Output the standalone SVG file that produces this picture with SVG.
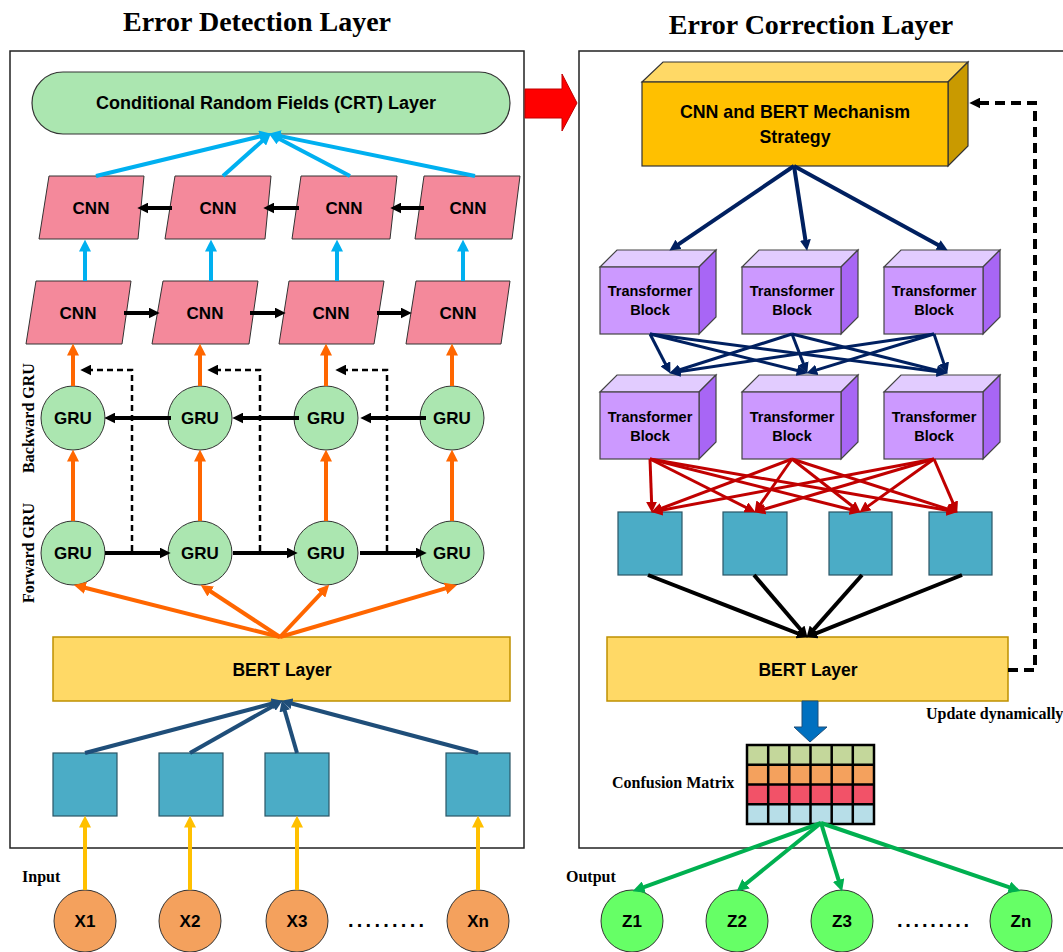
<svg xmlns="http://www.w3.org/2000/svg" width="1063" height="952" viewBox="0 0 1063 952">
<style>
.t{font-family:"Liberation Sans",Arial,sans-serif;font-weight:bold;fill:#000;text-anchor:middle}
.s{font-family:"Liberation Serif","Times New Roman",serif;font-weight:bold;fill:#000}
.panel{fill:#fff;stroke:#222;stroke-width:1.5}
.cnn{fill:#F4899B;stroke:#333;stroke-width:1}
.gru{fill:#ABE6B0;stroke:#333;stroke-width:1}
.bert{fill:#FFD966;stroke:#BF9000;stroke-width:1.5}
.sq{fill:#4BACC6;stroke:#2A5566;stroke-width:1.2}
.xin{fill:#F4A15D;stroke:#333;stroke-width:1}
.zout{fill:#66FF66;stroke:#333;stroke-width:1}
.tf{fill:#CC99FF;stroke:#444;stroke-width:1.2}
.tt{fill:#E2CCFF;stroke:#444;stroke-width:1.2}
.ts{fill:#A866F5;stroke:#444;stroke-width:1.2}
.c line,.c path{fill:none}
.blue{stroke:#00B0F0;stroke-width:4}
.blk{stroke:#000;stroke-width:4}
.org{stroke:#FF6600;stroke-width:4}
.dsh{stroke:#000;stroke-width:2.5;stroke-dasharray:6,4}
.nv1{stroke:#1F4E79;stroke-width:4}
.yel{stroke:#FFC000;stroke-width:4}
.nv2{stroke:#002060;stroke-width:4}
.nv3{stroke:#002060;stroke-width:3}
.red{stroke:#C00000;stroke-width:3}
.grn{stroke:#00B050;stroke-width:4}
.fb{stroke:#000;stroke-width:4;stroke-dasharray:10,6}
</style>
<defs>
<marker id="mBlue" viewBox="0 0 10 10" refX="3" refY="5" markerWidth="12" markerHeight="12" markerUnits="userSpaceOnUse" orient="auto"><path d="M0,0 L10,5 L0,10 z" fill="#00B0F0"/></marker>
<marker id="mBlk" viewBox="0 0 10 10" refX="3" refY="5" markerWidth="11" markerHeight="11" markerUnits="userSpaceOnUse" orient="auto"><path d="M0,0 L10,5 L0,10 z" fill="#000"/></marker>
<marker id="mOrg" viewBox="0 0 10 10" refX="3" refY="5" markerWidth="12" markerHeight="12" markerUnits="userSpaceOnUse" orient="auto"><path d="M0,0 L10,5 L0,10 z" fill="#FF6600"/></marker>
<marker id="mNv1" viewBox="0 0 10 10" refX="3" refY="5" markerWidth="11" markerHeight="11" markerUnits="userSpaceOnUse" orient="auto"><path d="M0,0 L10,5 L0,10 z" fill="#1F4E79"/></marker>
<marker id="mYel" viewBox="0 0 10 10" refX="3" refY="5" markerWidth="12" markerHeight="12" markerUnits="userSpaceOnUse" orient="auto"><path d="M0,0 L10,5 L0,10 z" fill="#FFC000"/></marker>
<marker id="mNv2" viewBox="0 0 10 10" refX="3" refY="5" markerWidth="11" markerHeight="11" markerUnits="userSpaceOnUse" orient="auto"><path d="M0,0 L10,5 L0,10 z" fill="#002060"/></marker>
<marker id="mRed" viewBox="0 0 10 10" refX="3" refY="5" markerWidth="11" markerHeight="11" markerUnits="userSpaceOnUse" orient="auto"><path d="M0,0 L10,5 L0,10 z" fill="#C00000"/></marker>
<marker id="mGrn" viewBox="0 0 10 10" refX="3" refY="5" markerWidth="12" markerHeight="12" markerUnits="userSpaceOnUse" orient="auto"><path d="M0,0 L10,5 L0,10 z" fill="#00B050"/></marker>
</defs>

<rect width="1063" height="952" fill="#fff"/>

<!-- titles -->
<text class="s" x="257" y="31" font-size="28" text-anchor="middle">Error Detection Layer</text>
<text class="s" x="811" y="34" font-size="28" text-anchor="middle">Error Correction Layer</text>

<!-- panels -->
<rect class="panel" x="10" y="51" width="514" height="797"/>
<rect class="panel" x="579" y="51" width="500" height="797"/>

<!-- big red arrow -->
<polygon points="525,89 562,89 562,74 577,103 562,131 562,118 525,118" fill="#FF0000" stroke="#C00000" stroke-width="1"/>

<!-- LEFT: nodes -->
<g id="crt">
<rect x="32" y="72" width="478" height="62" rx="31" fill="#ABE6B0" stroke="#333" stroke-width="1.2"/>
<text class="t" x="266" y="109" font-size="18">Conditional Random Fields (CRT) Layer</text>
</g>
<g id="cnn-top-1"><polygon class="cnn" points="49,176 144,176 138,239 39,239"/><text class="t" x="91" y="214" font-size="17">CNN</text></g>
<g id="cnn-top-2"><polygon class="cnn" points="175,176 271,176 265,239 165,239"/><text class="t" x="218" y="214" font-size="17">CNN</text></g>
<g id="cnn-top-3"><polygon class="cnn" points="301,176 397,176 390,239 292,239"/><text class="t" x="344" y="214" font-size="17">CNN</text></g>
<g id="cnn-top-4"><polygon class="cnn" points="424,176 520,176 512,239 415,239"/><text class="t" x="468" y="214" font-size="17">CNN</text></g>
<g id="cnn-bot-1"><polygon class="cnn" points="36,281 131,281 122,344 26,344"/><text class="t" x="78" y="319" font-size="17">CNN</text></g>
<g id="cnn-bot-2"><polygon class="cnn" points="163,281 258,281 249,344 152,344"/><text class="t" x="205" y="319" font-size="17">CNN</text></g>
<g id="cnn-bot-3"><polygon class="cnn" points="289,281 384,281 374,344 279,344"/><text class="t" x="331" y="319" font-size="17">CNN</text></g>
<g id="cnn-bot-4"><polygon class="cnn" points="416,281 510,281 501,344 406,344"/><text class="t" x="458" y="319" font-size="17">CNN</text></g>

<g id="gru-b-1"><circle class="gru" cx="73" cy="418" r="32"/><text class="t" x="73" y="424" font-size="17">GRU</text></g>
<g id="gru-b-2"><circle class="gru" cx="200" cy="418" r="32"/><text class="t" x="200" y="424" font-size="17">GRU</text></g>
<g id="gru-b-3"><circle class="gru" cx="326" cy="418" r="32"/><text class="t" x="326" y="424" font-size="17">GRU</text></g>
<g id="gru-b-4"><circle class="gru" cx="452" cy="418" r="32"/><text class="t" x="452" y="424" font-size="17">GRU</text></g>
<g id="gru-f-1"><circle class="gru" cx="73" cy="553" r="32"/><text class="t" x="73" y="559" font-size="17">GRU</text></g>
<g id="gru-f-2"><circle class="gru" cx="200" cy="553" r="32"/><text class="t" x="200" y="559" font-size="17">GRU</text></g>
<g id="gru-f-3"><circle class="gru" cx="326" cy="553" r="32"/><text class="t" x="326" y="559" font-size="17">GRU</text></g>
<g id="gru-f-4"><circle class="gru" cx="452" cy="553" r="32"/><text class="t" x="452" y="559" font-size="17">GRU</text></g>

<text class="s" font-size="16" text-anchor="middle" transform="translate(34,418) rotate(-90)">Backward GRU</text>
<text class="s" font-size="16" text-anchor="middle" transform="translate(34,553) rotate(-90)">Forward GRU</text>

<g id="bert-left"><rect class="bert" x="53" y="637" width="457" height="64"/><text class="t" x="282" y="676" font-size="17.5">BERT Layer</text></g>

<g id="emb-1"><rect class="sq" x="53" y="753" width="64" height="63"/></g>
<g id="emb-2"><rect class="sq" x="159" y="753" width="64" height="63"/></g>
<g id="emb-3"><rect class="sq" x="265" y="753" width="64" height="63"/></g>
<g id="emb-4"><rect class="sq" x="446" y="753" width="64" height="63"/></g>

<text class="s" x="22" y="882" font-size="16">Input</text>
<g id="x1"><circle class="xin" cx="85" cy="921" r="31"/><text class="t" x="85" y="927" font-size="17">X1</text></g>
<g id="x2"><circle class="xin" cx="190" cy="921" r="31"/><text class="t" x="190" y="927" font-size="17">X2</text></g>
<g id="x3"><circle class="xin" cx="297" cy="921" r="31"/><text class="t" x="297" y="927" font-size="17">X3</text></g>
<text class="t" x="386" y="927" font-size="20" textLength="76" lengthAdjust="spacing">.........</text>
<g id="xn"><circle class="xin" cx="478" cy="921" r="31"/><text class="t" x="478" y="927" font-size="17">Xn</text></g>

<!-- RIGHT: nodes -->
<g id="strategy">
<polygon points="642,82 663,62 968,62 948,82" fill="#FFD966" stroke="#333" stroke-width="1.2"/>
<polygon points="948,82 968,62 968,146 948,166" fill="#C99A00" stroke="#333" stroke-width="1.2"/>
<rect x="642" y="82" width="306" height="84" fill="#FFC000" stroke="#333" stroke-width="1.2"/>
<text class="t" x="795" y="118" font-size="17.8">CNN and BERT Mechanism</text>
<text class="t" x="795" y="143" font-size="17.8">Strategy</text>
</g>

<g id="tb-1-1"><polygon class="tt" points="600,267 617,250 716,250 699,267"/><polygon class="ts" points="699,267 716,250 716,317 699,334"/><rect class="tf" x="600" y="267" width="99" height="67"/><text class="t" x="650" y="296" font-size="14.5">Transformer</text><text class="t" x="650" y="315" font-size="14.5">Block</text></g>
<g id="tb-1-2"><polygon class="tt" points="742,267 759,250 858,250 841,267"/><polygon class="ts" points="841,267 858,250 858,317 841,334"/><rect class="tf" x="742" y="267" width="99" height="67"/><text class="t" x="792" y="296" font-size="14.5">Transformer</text><text class="t" x="792" y="315" font-size="14.5">Block</text></g>
<g id="tb-1-3"><polygon class="tt" points="884,267 901,250 1000,250 983,267"/><polygon class="ts" points="983,267 1000,250 1000,317 983,334"/><rect class="tf" x="884" y="267" width="99" height="67"/><text class="t" x="934" y="296" font-size="14.5">Transformer</text><text class="t" x="934" y="315" font-size="14.5">Block</text></g>
<g id="tb-2-1"><polygon class="tt" points="600,392 617,375 716,375 699,392"/><polygon class="ts" points="699,392 716,375 716,442 699,459"/><rect class="tf" x="600" y="392" width="99" height="67"/><text class="t" x="650" y="422" font-size="14.5">Transformer</text><text class="t" x="650" y="441" font-size="14.5">Block</text></g>
<g id="tb-2-2"><polygon class="tt" points="742,392 759,375 858,375 841,392"/><polygon class="ts" points="841,392 858,375 858,442 841,459"/><rect class="tf" x="742" y="392" width="99" height="67"/><text class="t" x="792" y="422" font-size="14.5">Transformer</text><text class="t" x="792" y="441" font-size="14.5">Block</text></g>
<g id="tb-2-3"><polygon class="tt" points="884,392 901,375 1000,375 983,392"/><polygon class="ts" points="983,392 1000,375 1000,442 983,459"/><rect class="tf" x="884" y="392" width="99" height="67"/><text class="t" x="934" y="422" font-size="14.5">Transformer</text><text class="t" x="934" y="441" font-size="14.5">Block</text></g>

<g id="out-1"><rect class="sq" x="618" y="512" width="64" height="63"/></g>
<g id="out-2"><rect class="sq" x="723" y="512" width="64" height="63"/></g>
<g id="out-3"><rect class="sq" x="829" y="512" width="63" height="63"/></g>
<g id="out-4"><rect class="sq" x="929" y="512" width="63" height="63"/></g>

<g id="bert-right"><rect class="bert" x="607" y="637" width="401" height="64"/><text class="t" x="808" y="676" font-size="17.5">BERT Layer</text></g>

<polygon points="802,701 818,701 818,727 827,727 810,742 794,727 802,727" fill="#0070C0" stroke="#1F4E79" stroke-width="1"/>

<text class="s" x="926" y="719" font-size="16">Update dynamically</text>

<g id="confusion-matrix">
<rect x="747" y="745" width="127" height="19.75" fill="#C4D79B"/>
<rect x="747" y="764.75" width="127" height="19.75" fill="#F4A15D"/>
<rect x="747" y="784.5" width="127" height="19.75" fill="#F25268"/>
<rect x="747" y="804.25" width="127" height="19.75" fill="#B7DEE8"/>
<g stroke="#000" stroke-width="2.5" fill="none">
<rect x="747" y="745" width="127" height="79"/>
<path d="M768.2,745V824M789.3,745V824M810.5,745V824M831.7,745V824M852.8,745V824M747,764.75H874M747,784.5H874M747,804.25H874"/>
</g>
</g>
<text class="s" x="612" y="788" font-size="16">Confusion Matrix</text>

<text class="s" x="566" y="882" font-size="16">Output</text>
<g id="z1"><circle class="zout" cx="632" cy="921" r="31"/><text class="t" x="632" y="927" font-size="17">Z1</text></g>
<g id="z2"><circle class="zout" cx="737" cy="921" r="31"/><text class="t" x="737" y="927" font-size="17">Z2</text></g>
<g id="z3"><circle class="zout" cx="842" cy="921" r="31"/><text class="t" x="842" y="927" font-size="17">Z3</text></g>
<text class="t" x="933" y="927" font-size="20" textLength="72" lengthAdjust="spacing">.........</text>
<g id="zn"><circle class="zout" cx="1021" cy="921" r="31"/><text class="t" x="1021" y="927" font-size="17">Zn</text></g>

<!-- connectors -->
<g id="connectors" class="c">
<line class="blue" x1="96" y1="176" x2="263.2" y2="135.6" marker-end="url(#mBlue)"/>
<line class="blue" x1="223" y1="176" x2="264.8" y2="138.7" marker-end="url(#mBlue)"/>
<line class="blue" x1="350" y1="176" x2="276.2" y2="137.3" marker-end="url(#mBlue)"/>
<line class="blue" x1="475" y1="176" x2="276.9" y2="135.4" marker-end="url(#mBlue)"/>

<line class="blue" x1="85" y1="281" x2="85" y2="248" marker-end="url(#mBlue)"/>
<line class="blue" x1="211" y1="281" x2="211" y2="248" marker-end="url(#mBlue)"/>
<line class="blue" x1="337" y1="281" x2="337" y2="248" marker-end="url(#mBlue)"/>
<line class="blue" x1="463" y1="281" x2="463" y2="248" marker-end="url(#mBlue)"/>

<line class="blk" x1="172" y1="208" x2="145" y2="208" marker-end="url(#mBlk)"/>
<line class="blk" x1="299" y1="208" x2="271" y2="208" marker-end="url(#mBlk)"/>
<line class="blk" x1="424" y1="208" x2="398" y2="208" marker-end="url(#mBlk)"/>
<line class="blk" x1="124" y1="313" x2="152" y2="313" marker-end="url(#mBlk)"/>
<line class="blk" x1="250" y1="313" x2="278" y2="313" marker-end="url(#mBlk)"/>
<line class="blk" x1="377" y1="313" x2="404" y2="313" marker-end="url(#mBlk)"/>

<line class="org" x1="73" y1="386" x2="73" y2="352" marker-end="url(#mOrg)"/>
<line class="org" x1="200" y1="386" x2="200" y2="352" marker-end="url(#mOrg)"/>
<line class="org" x1="326" y1="386" x2="326" y2="352" marker-end="url(#mOrg)"/>
<line class="org" x1="452" y1="386" x2="452" y2="352" marker-end="url(#mOrg)"/>
<line class="org" x1="73" y1="521" x2="73" y2="458" marker-end="url(#mOrg)"/>
<line class="org" x1="200" y1="521" x2="200" y2="458" marker-end="url(#mOrg)"/>
<line class="org" x1="326" y1="521" x2="326" y2="458" marker-end="url(#mOrg)"/>
<line class="org" x1="452" y1="521" x2="452" y2="458" marker-end="url(#mOrg)"/>

<line class="org" x1="280" y1="637" x2="82" y2="587" marker-end="url(#mOrg)"/>
<line class="org" x1="280" y1="637" x2="207.7" y2="589.5" marker-end="url(#mOrg)"/>
<line class="org" x1="280" y1="637" x2="323.4" y2="590.9" marker-end="url(#mOrg)"/>
<line class="org" x1="280" y1="637" x2="449" y2="587.4" marker-end="url(#mOrg)"/>

<line class="blk" x1="105" y1="553" x2="163" y2="553" marker-end="url(#mBlk)"/>
<line class="blk" x1="233" y1="553" x2="290" y2="553" marker-end="url(#mBlk)"/>
<line class="blk" x1="360" y1="553" x2="419" y2="553" marker-end="url(#mBlk)"/>
<line class="blk" x1="171" y1="418" x2="112" y2="418" marker-end="url(#mBlk)"/>
<line class="blk" x1="299" y1="418" x2="240" y2="418" marker-end="url(#mBlk)"/>
<line class="blk" x1="426" y1="418" x2="368" y2="418" marker-end="url(#mBlk)"/>

<path class="dsh" d="M132,551 V370 H88" marker-end="url(#mBlk)"/>
<path class="dsh" d="M260,551 V370 H215" marker-end="url(#mBlk)"/>
<path class="dsh" d="M387,551 V370 H343" marker-end="url(#mBlk)"/>

<line class="nv1" x1="85" y1="753" x2="275.2" y2="702.8" marker-end="url(#mNv1)"/>
<line class="nv1" x1="190" y1="753" x2="275.9" y2="704.4" marker-end="url(#mNv1)"/>
<line class="nv1" x1="297" y1="753" x2="283.9" y2="707.7" marker-end="url(#mNv1)"/>
<line class="nv1" x1="478" y1="753" x2="288.8" y2="702.8" marker-end="url(#mNv1)"/>

<line class="yel" x1="85" y1="890" x2="85" y2="824" marker-end="url(#mYel)"/>
<line class="yel" x1="190" y1="890" x2="190" y2="824" marker-end="url(#mYel)"/>
<line class="yel" x1="297" y1="890" x2="297" y2="824" marker-end="url(#mYel)"/>
<line class="yel" x1="478" y1="890" x2="478" y2="824" marker-end="url(#mYel)"/>

<line class="nv2" x1="794" y1="166" x2="675.8" y2="246.1" marker-end="url(#mNv2)"/>
<line class="nv2" x1="794" y1="166" x2="805.9" y2="243.1" marker-end="url(#mNv2)"/>
<line class="nv2" x1="794" y1="166" x2="940.9" y2="246.6" marker-end="url(#mNv2)"/>

<line class="nv3" x1="650" y1="334" x2="666.9" y2="366.7" marker-end="url(#mNv2)"/>
<line class="nv3" x1="650" y1="334" x2="800.2" y2="371.3" marker-end="url(#mNv2)"/>
<line class="nv3" x1="650" y1="334" x2="940.1" y2="372.1" marker-end="url(#mNv2)"/>
<line class="nv3" x1="792" y1="334" x2="676.7" y2="370.8" marker-end="url(#mNv2)"/>
<line class="nv3" x1="792" y1="334" x2="804.5" y2="366.4" marker-end="url(#mNv2)"/>
<line class="nv3" x1="792" y1="334" x2="940.2" y2="371.3" marker-end="url(#mNv2)"/>
<line class="nv3" x1="934" y1="334" x2="676.9" y2="371.9" marker-end="url(#mNv2)"/>
<line class="nv3" x1="934" y1="334" x2="813.7" y2="370.9" marker-end="url(#mNv2)"/>
<line class="nv3" x1="934" y1="334" x2="944.8" y2="366.4" marker-end="url(#mNv2)"/>

<line class="red" x1="650" y1="459" x2="651.7" y2="505" marker-end="url(#mRed)"/>
<line class="red" x1="650" y1="459" x2="748.7" y2="508.8" marker-end="url(#mRed)"/>
<line class="red" x1="650" y1="459" x2="853.2" y2="510.3" marker-end="url(#mRed)"/>
<line class="red" x1="650" y1="459" x2="950.1" y2="510.8" marker-end="url(#mRed)"/>
<line class="red" x1="792" y1="459" x2="658.5" y2="509.5" marker-end="url(#mRed)"/>
<line class="red" x1="792" y1="459" x2="759" y2="506.3" marker-end="url(#mRed)"/>
<line class="red" x1="792" y1="459" x2="854.5" y2="507.7" marker-end="url(#mRed)"/>
<line class="red" x1="792" y1="459" x2="950.3" y2="509.9" marker-end="url(#mRed)"/>
<line class="red" x1="934" y1="459" x2="658.9" y2="510.7" marker-end="url(#mRed)"/>
<line class="red" x1="934" y1="459" x2="761.7" y2="510" marker-end="url(#mRed)"/>
<line class="red" x1="934" y1="459" x2="865.7" y2="507.9" marker-end="url(#mRed)"/>
<line class="red" x1="934" y1="459" x2="954.2" y2="505.6" marker-end="url(#mRed)"/>

<line class="blk" x1="648" y1="575" x2="800.5" y2="634.5" marker-end="url(#mBlk)"/>
<line class="blk" x1="754" y1="575" x2="802.5" y2="631.7" marker-end="url(#mBlk)"/>
<line class="blk" x1="862" y1="575" x2="811.6" y2="631.8" marker-end="url(#mBlk)"/>
<line class="blk" x1="962" y1="575" x2="813.5" y2="634.4" marker-end="url(#mBlk)"/>

<line class="grn" x1="821" y1="823" x2="640.5" y2="888.3" marker-end="url(#mGrn)"/>
<line class="grn" x1="821" y1="823" x2="743.2" y2="886" marker-end="url(#mGrn)"/>
<line class="grn" x1="821" y1="823" x2="839.6" y2="883.4" marker-end="url(#mGrn)"/>
<line class="grn" x1="821" y1="823" x2="1012.5" y2="888.4" marker-end="url(#mGrn)"/>

<path class="fb" d="M1008,670 H1035 V103 H977" marker-end="url(#mBlk)"/>
</g>
</svg>
